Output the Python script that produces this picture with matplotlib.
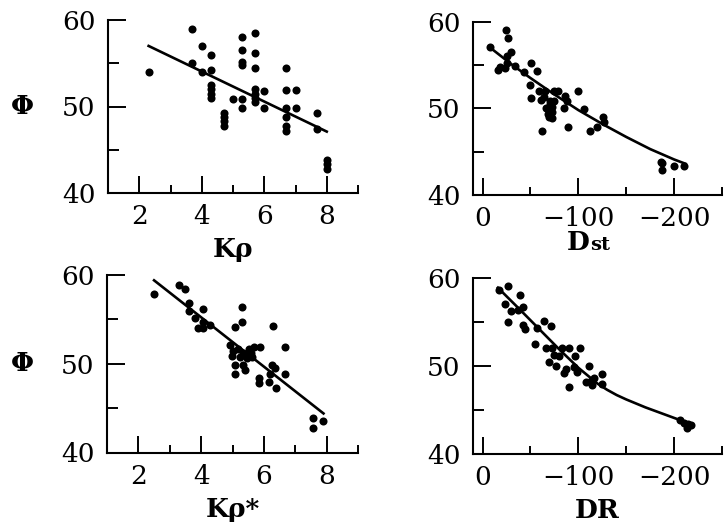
import matplotlib
matplotlib.use("Agg")
import matplotlib.pyplot as plt
from matplotlib.ticker import FixedLocator

plt.rcParams['font.family'] = ['DejaVu Serif']

# ---------------- data ----------------
kp_x = [2.3, 3.7, 4.0, 3.7, 4.0, 4.3, 4.3, 4.3, 4.3, 4.3, 4.3,
        4.7, 4.7, 4.7, 4.7, 5.0, 5.3, 5.3, 5.3, 5.3, 5.3, 5.3,
        5.7, 5.7, 5.7, 5.7, 5.7, 5.7, 5.7, 6.0, 6.0,
        6.7, 6.7, 7.0, 6.7, 7.0, 6.7, 6.7, 6.7, 7.7, 7.7, 8.0, 8.0, 8.0]
kp_y = [54.0, 59.0, 57.0, 55.0, 54.0, 56.0, 54.2, 52.5, 52.0, 51.5, 51.0,
        49.3, 48.8, 48.3, 47.8, 50.9, 50.9, 49.8, 58.0, 56.5, 55.2, 54.8,
        58.5, 56.2, 54.4, 52.0, 51.5, 51.0, 50.5, 51.8, 49.8,
        54.4, 51.9, 51.9, 49.8, 49.8, 48.8, 47.7, 47.2, 49.3, 47.4, 43.8, 43.3, 42.8]
kp_fit_x = [2.3, 8.0]
kp_fit_y = [57.0, 47.1]

dst_x = [-8, -24, -27, -30, -25, -16, -18, -23, -26, -34, -43, -51, -57, -50,
         -51, -59, -65, -61, -75, -79, -70, -75, -66, -72, -68, -72, -86, -88,
         -85, -100, -106, -62, -89, -112, -119, -126, -127, -186, -187, -187,
         -200, -210, -70, -73, -69, -64]
dst_y = [57.1, 59.0, 58.1, 56.5, 56.0, 54.4, 54.8, 54.6, 55.2, 54.9, 54.2, 55.2, 54.3, 52.7,
         51.2, 52.0, 52.0, 51.0, 52.0, 52.0, 50.9, 50.9, 50.0, 50.2, 49.4, 48.9, 51.4, 50.9,
         50.0, 52.0, 49.9, 47.4, 47.9, 47.4, 47.9, 49.0, 48.4, 43.8, 43.7, 42.9,
         43.3, 43.3, 50.5, 49.6, 49.0, 51.3]
dst_fit_x = [-8, -30, -50, -75, -100, -125, -150, -175, -200, -212]
dst_fit_y = [57.0, 55.1, 53.5, 51.6, 49.8, 48.2, 46.7, 45.3, 44.1, 43.6]

kps_x = [2.5, 3.3, 3.5, 3.6, 3.6, 3.8, 4.07, 3.9, 4.07, 4.05, 4.28, 5.08, 5.3, 5.3,
         4.92, 5.03, 5.19, 5.35, 5.51, 5.69, 5.88, 5.46, 5.62, 4.98, 5.08, 5.08,
         5.33, 5.4, 5.25, 6.29, 6.68, 6.26, 6.36, 6.2, 6.68, 5.85, 5.85, 6.17,
         6.38, 7.56, 7.56, 7.88, 5.58]
kps_y = [57.9, 58.9, 58.4, 56.9, 55.9, 55.1, 56.2, 54.0, 54.0, 54.7, 54.4, 54.1, 54.7, 56.4,
         52.1, 51.4, 51.7, 51.2, 51.7, 51.9, 51.9, 50.6, 50.8, 50.9, 49.9, 48.9,
         49.9, 49.3, 50.8, 54.3, 51.9, 49.9, 49.5, 48.9, 48.8, 48.4, 47.8, 47.9,
         47.3, 43.9, 42.8, 43.5, 51.2]
kps_fit_x = [2.5, 7.9]
kps_fit_y = [59.4, 44.4]

dr_x = [-17, -27, -39, -23, -30, -37, -42, -27, -42, -44, -57, -64, -71, -55, -66,
        -73, -83, -90, -102, -75, -80, -69, -77, -97, -85, -87, -95, -99, -111,
        -90, -108, -114, -116, -125, -125, -113, -206, -210, -213, -215, -218]
dr_y = [58.6, 59.1, 58.1, 57.0, 56.2, 56.4, 56.7, 55.0, 54.7, 54.2, 54.3, 55.1, 54.6, 52.5, 52.1,
        52.1, 52.1, 52.1, 52.0, 51.25, 51.1, 50.5, 50.0, 51.1, 49.2, 49.7, 49.9, 49.35, 50.0,
        47.6, 48.2, 47.8, 48.6, 49.1, 48.0, 48.3, 43.9, 43.5, 43.0, 43.4, 43.3]
dr_fit_x = [-16, -40, -60, -80, -100, -120, -130, -140, -150, -160, -170, -180, -200, -215]
dr_fit_y = [58.9, 56.3, 54.1, 51.9, 49.8, 48.0, 47.3, 46.7, 46.2, 45.75, 45.3, 44.9, 44.1, 43.5]

# ---------------- figure ----------------
fig = plt.figure(figsize=(7.24, 5.29), dpi=100)

W, H = 724.0, 529.0
def rect(left, right, top, bottom):
    return [left / W, 1 - bottom / H, (right - left) / W, (bottom - top) / H]

ax_tl = fig.add_axes(rect(108, 358, 20, 193))
ax_tr = fig.add_axes(rect(473, 722, 21.7, 195))
ax_bl = fig.add_axes(rect(107, 358, 275, 452.5))
ax_br = fig.add_axes(rect(473, 722, 278, 454))

LW_SPINE = 1.5
def style(ax, kp_type):
    for s in ['top', 'right']:
        ax.spines[s].set_visible(False)
    for s in ['left', 'bottom']:
        ax.spines[s].set_linewidth(LW_SPINE)
    ax.set_ylim(40, 60)
    ax.yaxis.set_major_locator(FixedLocator([40, 50, 60]))
    ax.yaxis.set_minor_locator(FixedLocator([45, 55]))
    if kp_type:
        ax.set_xlim(1, 9)
        ax.xaxis.set_major_locator(FixedLocator([2, 4, 6, 8]))
        ax.xaxis.set_minor_locator(FixedLocator([3, 5, 7, 9]))
    else:
        ax.set_xlim(10, -250)
        ax.xaxis.set_major_locator(FixedLocator([0, -100, -200]))
        ax.xaxis.set_minor_locator(FixedLocator([-50, -150, -250]))
    ax.tick_params(axis='x', which='major', direction='in', length=12.5, width=1.4,
                   labelsize=19, pad=8)
    ax.tick_params(axis='x', which='minor', direction='in', length=6, width=1.4)
    ax.tick_params(axis='y', which='major', direction='in', length=13, width=1.4,
                   labelsize=19, pad=9)
    ax.tick_params(axis='y', which='minor', direction='in', length=8, width=1.4)
    ax.set_facecolor('white')

MS = 5.8
def draw(ax, x, y, fx, fy):
    ax.plot(x, y, 'o', color='black', markersize=MS, markeredgewidth=0, clip_on=False)
    ax.plot(fx, fy, '-', color='black', linewidth=1.9, clip_on=False)

draw(ax_tl, kp_x, kp_y, kp_fit_x, kp_fit_y)
draw(ax_tr, dst_x, dst_y, dst_fit_x, dst_fit_y)
draw(ax_bl, kps_x, kps_y, kps_fit_x, kps_fit_y)
draw(ax_br, dr_x, dr_y, dr_fit_x, dr_fit_y)

style(ax_tl, True)
style(ax_tr, False)
style(ax_bl, True)
style(ax_br, False)

LBL = dict(fontsize=19, fontweight='bold')
ax_tl.set_xlabel('Kρ', labelpad=6, **LBL)
ax_bl.set_xlabel('Kρ*', labelpad=6, **LBL)
ax_br.set_xlabel('DR', labelpad=6, **LBL)

# "Dst" label: large D with smaller "st"
ax_tr.text(0.47, -0.32, 'D', transform=ax_tr.transAxes, ha='right', va='baseline',
           fontsize=19, fontweight='bold')
ax_tr.text(0.47, -0.32, 'st', transform=ax_tr.transAxes, ha='left', va='baseline',
           fontsize=14, fontweight='bold')

for ax in (ax_tl, ax_bl):
    ax.text(22 / W, 50, 'Φ', transform=matplotlib.transforms.blended_transform_factory(
        fig.transFigure, ax.transData), ha='center', va='center',
        fontsize=19, fontweight='bold')

fig.savefig('out.png', dpi=100, facecolor='white')
